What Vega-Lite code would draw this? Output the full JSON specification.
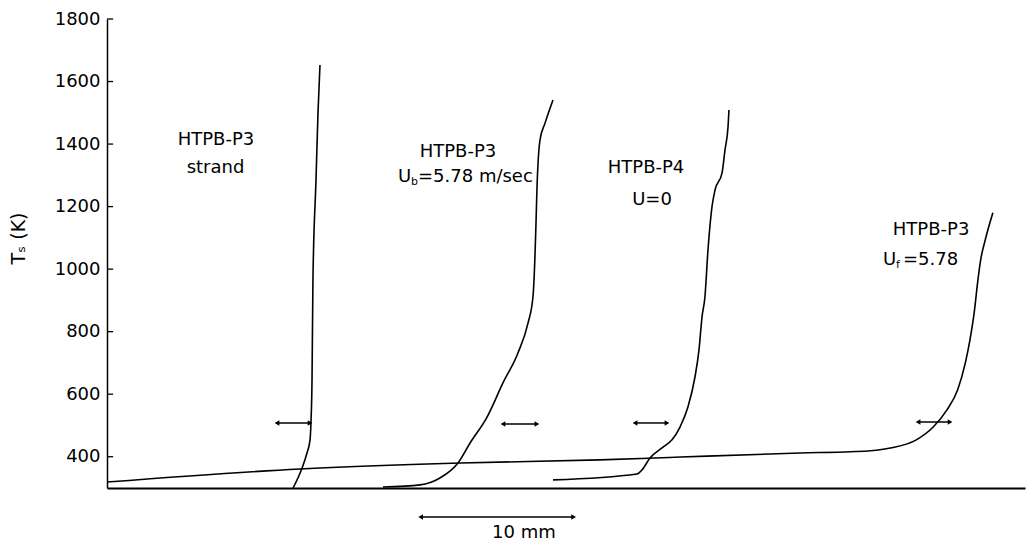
{
  "$schema": "https://vega.github.io/schema/vega-lite/v6.json",
  "width": 918,
  "height": 469,
  "autosize": {"type": "none"},
  "padding": {"left": 107, "top": 19, "right": 3, "bottom": 55},
  "background": "white",
  "config": {
    "view": {"stroke": null},
    "font": "DejaVu Sans",
    "axis": {"grid": false, "domainColor": "black", "tickColor": "black", "labelColor": "black", "titleColor": "black"}
  },
  "datasets": {
    "curves": [
      {"s": "Uf", "i": 1, "x": 0, "T": 319},
      {"s": "Uf", "i": 2, "x": 12.6, "T": 361},
      {"s": "Uf", "i": 3, "x": 23.1, "T": 380},
      {"s": "Uf", "i": 4, "x": 32.2, "T": 390},
      {"s": "Uf", "i": 5, "x": 35.8, "T": 396},
      {"s": "Uf", "i": 6, "x": 37.5, "T": 399},
      {"s": "Uf", "i": 7, "x": 45.3, "T": 412},
      {"s": "Uf", "i": 8, "x": 48.6, "T": 416},
      {"s": "Uf", "i": 9, "x": 49.9, "T": 419},
      {"s": "Uf", "i": 10, "x": 51.2, "T": 428},
      {"s": "Uf", "i": 11, "x": 52.9, "T": 454},
      {"s": "Uf", "i": 12, "x": 54.0, "T": 495},
      {"s": "Uf", "i": 13, "x": 54.9, "T": 550},
      {"s": "Uf", "i": 14, "x": 55.6, "T": 614},
      {"s": "Uf", "i": 15, "x": 56.1, "T": 700},
      {"s": "Uf", "i": 16, "x": 56.4, "T": 773},
      {"s": "Uf", "i": 17, "x": 56.7, "T": 869},
      {"s": "Uf", "i": 18, "x": 56.9, "T": 956},
      {"s": "Uf", "i": 19, "x": 57.1, "T": 1029},
      {"s": "Uf", "i": 20, "x": 57.4, "T": 1093},
      {"s": "Uf", "i": 21, "x": 57.9, "T": 1180},
      {"s": "strand", "i": 1, "x": 12.16, "T": 300},
      {"s": "strand", "i": 2, "x": 12.75, "T": 364},
      {"s": "strand", "i": 3, "x": 13.07, "T": 412},
      {"s": "strand", "i": 4, "x": 13.27, "T": 454},
      {"s": "strand", "i": 5, "x": 13.33, "T": 508},
      {"s": "strand", "i": 6, "x": 13.40, "T": 645},
      {"s": "strand", "i": 7, "x": 13.46, "T": 965},
      {"s": "strand", "i": 8, "x": 13.66, "T": 1285},
      {"s": "strand", "i": 9, "x": 13.79, "T": 1499},
      {"s": "strand", "i": 10, "x": 13.92, "T": 1653},
      {"s": "Ub", "i": 1, "x": 18.04, "T": 303},
      {"s": "Ub", "i": 2, "x": 20.46, "T": 310},
      {"s": "Ub", "i": 3, "x": 21.76, "T": 332},
      {"s": "Ub", "i": 4, "x": 22.94, "T": 380},
      {"s": "Ub", "i": 5, "x": 23.73, "T": 444},
      {"s": "Ub", "i": 6, "x": 24.84, "T": 527},
      {"s": "Ub", "i": 7, "x": 25.88, "T": 636},
      {"s": "Ub", "i": 8, "x": 26.86, "T": 732},
      {"s": "Ub", "i": 9, "x": 27.52, "T": 828},
      {"s": "Ub", "i": 10, "x": 27.84, "T": 911},
      {"s": "Ub", "i": 11, "x": 27.97, "T": 1039},
      {"s": "Ub", "i": 12, "x": 28.04, "T": 1148},
      {"s": "Ub", "i": 13, "x": 28.10, "T": 1253},
      {"s": "Ub", "i": 14, "x": 28.30, "T": 1413},
      {"s": "Ub", "i": 15, "x": 28.63, "T": 1467},
      {"s": "Ub", "i": 16, "x": 29.15, "T": 1541},
      {"s": "P4", "i": 1, "x": 29.15, "T": 326},
      {"s": "P4", "i": 2, "x": 34.64, "T": 345},
      {"s": "P4", "i": 3, "x": 34.97, "T": 358},
      {"s": "P4", "i": 4, "x": 35.49, "T": 396},
      {"s": "P4", "i": 5, "x": 36.34, "T": 431},
      {"s": "P4", "i": 6, "x": 36.93, "T": 454},
      {"s": "P4", "i": 7, "x": 37.45, "T": 495},
      {"s": "P4", "i": 8, "x": 37.97, "T": 559},
      {"s": "P4", "i": 9, "x": 38.43, "T": 655},
      {"s": "P4", "i": 10, "x": 38.69, "T": 741},
      {"s": "P4", "i": 11, "x": 38.89, "T": 847},
      {"s": "P4", "i": 12, "x": 39.08, "T": 911},
      {"s": "P4", "i": 13, "x": 39.28, "T": 1061},
      {"s": "P4", "i": 14, "x": 39.54, "T": 1199},
      {"s": "P4", "i": 15, "x": 39.74, "T": 1253},
      {"s": "P4", "i": 16, "x": 40.20, "T": 1308},
      {"s": "P4", "i": 17, "x": 40.39, "T": 1381},
      {"s": "P4", "i": 18, "x": 40.59, "T": 1455},
      {"s": "P4", "i": 19, "x": 40.65, "T": 1509}
    ],
    "yticks": [
      {"T": 400}, {"T": 600}, {"T": 800}, {"T": 1000}, {"T": 1200}, {"T": 1400}, {"T": 1600}, {"T": 1800}
    ],
    "arrows": [
      {"g": "strand", "x1": 11.11, "x2": 13.27, "T": 508},
      {"g": "Ub", "x1": 25.88, "x2": 28.10, "T": 505},
      {"g": "P4", "x1": 34.51, "x2": 36.60, "T": 508},
      {"g": "Uf", "x1": 53.01, "x2": 55.10, "T": 511},
      {"g": "scale", "x1": 20.5, "x2": 30.5, "T": 207}
    ],
    "heads": [
      {"x": 11.11, "T": 508, "shape": "triangle-left"},
      {"x": 13.27, "T": 508, "shape": "triangle-right"},
      {"x": 25.88, "T": 505, "shape": "triangle-left"},
      {"x": 28.10, "T": 505, "shape": "triangle-right"},
      {"x": 34.51, "T": 508, "shape": "triangle-left"},
      {"x": 36.60, "T": 508, "shape": "triangle-right"},
      {"x": 53.01, "T": 511, "shape": "triangle-left"},
      {"x": 55.10, "T": 511, "shape": "triangle-right"},
      {"x": 20.5, "T": 207, "shape": "triangle-left"},
      {"x": 30.5, "T": 207, "shape": "triangle-right"}
    ],
    "labels": [
      {"x": 7.12, "T": 1413, "text": "HTPB-P3"},
      {"x": 7.09, "T": 1323, "text": "strand"},
      {"x": 22.94, "T": 1375, "text": "HTPB-P3"},
      {"x": 35.23, "T": 1323, "text": "HTPB-P4"},
      {"x": 35.62, "T": 1221, "text": "U=0"},
      {"x": 53.86, "T": 1125, "text": "HTPB-P3"},
      {"x": 27.25, "T": 156, "text": "10 mm"}
    ],
    "subs": [
      {"x": 19.02, "T": 1295, "pre": "U", "sub": "b", "post": "=5.78 m/sec"},
      {"x": 50.72, "T": 1029, "pre": "U", "sub": "f", "post": "=5.78"}
    ]
  },
  "layer": [
    {
      "data": {"name": "curves"},
      "mark": {"type": "line", "color": "black", "strokeWidth": 1.6, "clip": false, "interpolate": "monotone"},
      "encoding": {
        "x": {"field": "x", "type": "quantitative", "scale": {"domain": [0, 60], "nice": false},
          "axis": {"title": null, "labels": false, "ticks": false, "domainWidth": 2.2}},
        "y": {"field": "T", "type": "quantitative", "scale": {"domain": [300, 1800], "nice": false, "zero": false},
          "axis": {"title": "Tₛ (K)", "values": [400, 600, 800, 1000, 1200, 1400, 1600, 1800], "format": "d",
            "ticks": false, "labelPadding": 7, "labelFontSize": 18, "labelFont": "DejaVu Sans",
            "domainWidth": 1.5, "titleFontSize": 19, "titleFontWeight": "normal", "titleFont": "DejaVu Sans",
            "titleX": -79, "titleY": 219, "titleBaseline": "bottom"}},
        "detail": {"field": "s"},
        "order": {"field": "i", "type": "quantitative"}
      }
    },
    {
      "data": {"name": "yticks"},
      "mark": {"type": "rule", "color": "black", "strokeWidth": 1.3},
      "encoding": {
        "x": {"datum": 0, "type": "quantitative"},
        "x2": {"datum": 0.4},
        "y": {"field": "T", "type": "quantitative"}
      }
    },
    {
      "data": {"name": "arrows"},
      "mark": {"type": "rule", "color": "black", "strokeWidth": 1.5},
      "encoding": {
        "x": {"field": "x1", "type": "quantitative"},
        "x2": {"field": "x2"},
        "y": {"field": "T", "type": "quantitative"}
      }
    },
    {
      "data": {"name": "heads"},
      "mark": {"type": "point", "filled": true, "color": "black", "size": 30, "opacity": 1},
      "encoding": {
        "x": {"field": "x", "type": "quantitative"},
        "y": {"field": "T", "type": "quantitative"},
        "shape": {"field": "shape", "type": "nominal", "scale": null}
      }
    },
    {
      "data": {"name": "labels"},
      "mark": {"type": "text", "fontSize": 18, "font": "DejaVu Sans", "color": "black", "align": "center", "baseline": "middle"},
      "encoding": {
        "x": {"field": "x", "type": "quantitative"},
        "y": {"field": "T", "type": "quantitative"},
        "text": {"field": "text"}
      }
    },
    {
      "data": {"name": "subs"},
      "mark": {"type": "text", "fontSize": 18, "font": "DejaVu Sans", "color": "black", "align": "left", "baseline": "middle"},
      "encoding": {
        "x": {"field": "x", "type": "quantitative"},
        "y": {"field": "T", "type": "quantitative"},
        "text": {"field": "pre"}
      }
    },
    {
      "data": {"name": "subs"},
      "mark": {"type": "text", "fontSize": 11, "font": "DejaVu Sans", "color": "black", "align": "left", "baseline": "middle", "dx": 13, "dy": 5},
      "encoding": {
        "x": {"field": "x", "type": "quantitative"},
        "y": {"field": "T", "type": "quantitative"},
        "text": {"field": "sub"}
      }
    },
    {
      "data": {"name": "subs"},
      "mark": {"type": "text", "fontSize": 18, "font": "DejaVu Sans", "color": "black", "align": "left", "baseline": "middle", "dx": 20},
      "encoding": {
        "x": {"field": "x", "type": "quantitative"},
        "y": {"field": "T", "type": "quantitative"},
        "text": {"field": "post"}
      }
    }
  ]
}
